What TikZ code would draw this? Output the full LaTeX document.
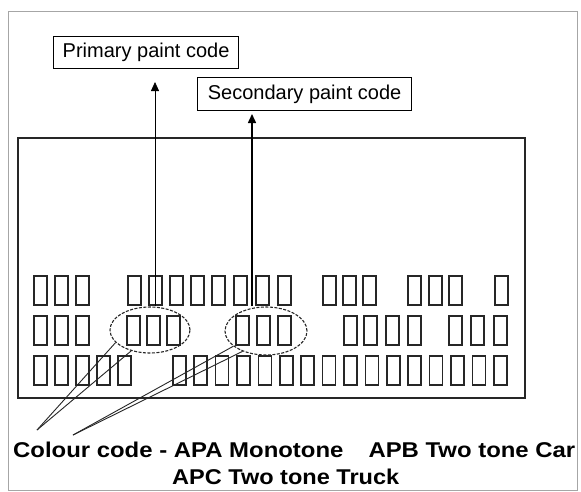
\documentclass[tikz,border=0pt]{standalone}
\usepackage{fontspec}
\setmainfont{Liberation Sans}
\usetikzlibrary{arrows.meta,shapes.geometric}
\tikzset{
  frame/.style={draw=black!35,line width=0.8pt},
  panel/.style={draw=black!85,line width=1.6pt},
  label/.style={draw=black,line width=1.2pt,inner sep=0pt,font=\fontsize{20}{22}\selectfont},
  pbox/.style={draw=black!85,line width=1.6pt,minimum width=13pt,minimum height=29pt,inner sep=0pt,anchor=north west},
  oval/.style={ellipse,draw=black!85,dash pattern=on 3pt off 1.5pt,line width=1.1pt,inner sep=0pt},
  uparrow/.style={-{Triangle[width=8pt,length=9pt]},draw=black},
  leader/.style={draw=black!85,line width=0.9pt},
  caption/.style={font=\bfseries\fontsize{20}{22}\selectfont,inner sep=0pt}
}
\begin{document}
\begin{tikzpicture}[x=1pt,y=-1pt]
\useasboundingbox (0,0) rectangle (581,491);
\fill[white] (0,0) rectangle (581,491);
\draw[frame] (8,11) rectangle (577,490);
\node[label,minimum width=185pt,minimum height=32pt,anchor=north west] (prim) at (53,36) {Primary paint code};
\node[label,minimum width=214pt,minimum height=33pt,anchor=north west] (sec) at (197,77) {Secondary paint code};
\draw[panel] (18,138) rectangle (525,398);
% row 1
\foreach \x [count=\i] in {33,54,75,127,148,169,190,211,233,255,277,322,342,362,407,428,448,494}
  \node[pbox] (ra\i) at (\x,275) {};
% row 2
\foreach \x [count=\i] in {33,54,75,126,146,166,235,256,277,343,363,385,407,448,470,493}
  \node[pbox] (rb\i) at (\x,315) {};
% row 3
\foreach \x [count=\i] in {33,54,75,96,117,172,193.4,214.8,236.2,257.6,279,300.4,321.8,343.2,364.6,386,407.4,428.8,450.2,471.6,493}
  \node[pbox] (rc\i) at (\x,355) {};
% ovals
\node[oval,minimum width=80pt,minimum height=46pt] (e1) at (150,330) {};
\node[oval,minimum width=82pt,minimum height=48pt] (e2) at (266,331) {};
% arrows
\coordinate (t1) at (155,82);
\coordinate (t2) at (252,114);
\draw[uparrow,line width=0.8pt] (e1.north -| t1) -- (t1);
\draw[uparrow,line width=1.5pt] (e2.north -| t2) -- (t2);
% leaders
\coordinate (l1) at (37,430);
\coordinate (l2) at (73,435);
\draw[leader] (e1.200) -- (l1);
\draw[leader] (e1.228) -- (l1);
\draw[leader] (e2.205) -- (l2);
\draw[leader] (e2.221) -- (l2);
% captions
\node[caption,anchor=base west] (cap1) at (13,457) {\resizebox{562pt}{15.5pt}{Colour code - APA Monotone\hspace{21pt}APB Two tone Car}};
\node[caption,anchor=base west] (cap2) at (172,484) {\resizebox{227pt}{15.5pt}{APC Two tone Truck}};
\end{tikzpicture}
\end{document}
